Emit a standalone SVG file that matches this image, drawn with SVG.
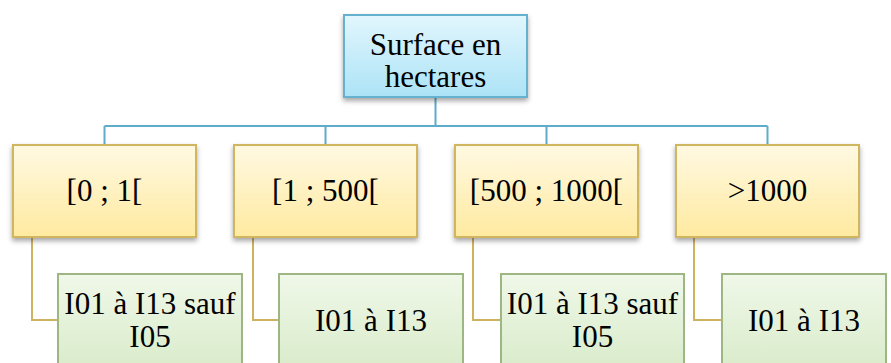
<svg xmlns="http://www.w3.org/2000/svg" width="891" height="363" viewBox="0 0 891 363">
<defs>
<linearGradient id="gBlue" x1="0" y1="0" x2="0" y2="1"><stop offset="0" stop-color="#e2f6fd"/><stop offset="1" stop-color="#ace3f6"/></linearGradient>
<linearGradient id="gYel" x1="0" y1="0" x2="0" y2="1"><stop offset="0" stop-color="#fff9e2"/><stop offset="1" stop-color="#ffeaa0"/></linearGradient>
<linearGradient id="gGrn" x1="0" y1="0" x2="0" y2="1"><stop offset="0" stop-color="#f0f8e9"/><stop offset="1" stop-color="#d8ebc9"/></linearGradient>
<filter id="sh" x="-10%" y="-10%" width="120%" height="130%"><feDropShadow dx="0" dy="3" stdDeviation="2.5" flood-color="#000" flood-opacity="0.35"/></filter>
</defs>
<style>
text{font-family:"Liberation Serif","Times New Roman",serif;font-size:31px;fill:#000;text-anchor:middle}
.b{fill:url(#gBlue);stroke:#66b1ce;stroke-width:2}
.y{fill:url(#gYel);stroke:#d0b660;stroke-width:2}
.g{fill:url(#gGrn);stroke:#9db683;stroke-width:2}
.cb{fill:none;stroke:#5fabca;stroke-width:2}
.cy{fill:none;stroke:#cdb25f;stroke-width:2}
</style>
<g id="connectors">
<path class="cb" d="M435.5 97V126M104.5 126H767.5M104.5 126V145M325.5 126V145M546.5 126V145M767.5 126V145"/>
<path class="cy" d="M32 237V320H58M253 237V320H279M473 237V320H501M694 237V320H722"/>
</g>
<g font-family="Liberation Serif, Times New Roman, serif" font-size="31" text-anchor="middle">
<g id="root"><rect class="b" x="344" y="15" width="183" height="82" filter="url(#sh)"/><text x="435.5" y="55">Surface en</text><text x="435.5" y="87">hectares</text></g>
<g id="n1"><rect class="y" x="13" y="145" width="183" height="92" filter="url(#sh)"/><text x="104.5" y="201">[0 ; 1[</text></g>
<g id="n2"><rect class="y" x="234" y="145" width="183" height="92" filter="url(#sh)"/><text x="325.5" y="201">[1 ; 500[</text></g>
<g id="n3"><rect class="y" x="455" y="145" width="183" height="92" filter="url(#sh)"/><text x="546.5" y="201">[500 ; 1000[</text></g>
<g id="n4"><rect class="y" x="676" y="145" width="183" height="92" filter="url(#sh)"/><text x="767.5" y="201">&gt;1000</text></g>
<g id="c1"><rect class="g" x="58" y="274" width="184" height="100"/><text x="150" y="314">I01 à I13 sauf</text><text x="150" y="347">I05</text></g>
<g id="c2"><rect class="g" x="279" y="274" width="184" height="100"/><text x="371" y="331">I01 à I13</text></g>
<g id="c3"><rect class="g" x="501" y="274" width="183" height="100"/><text x="592.5" y="314">I01 à I13 sauf</text><text x="592.5" y="347">I05</text></g>
<g id="c4"><rect class="g" x="722" y="274" width="164" height="100"/><text x="804" y="331">I01 à I13</text></g>
</g>
</svg>
